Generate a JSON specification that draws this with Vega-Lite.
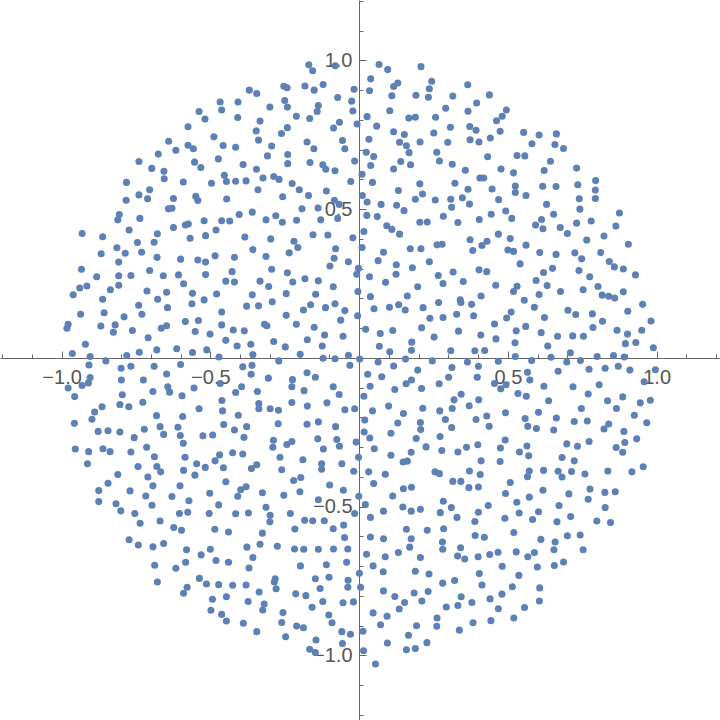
{
  "$schema": "https://vega.github.io/schema/vega-lite/v6.json",
  "width": 720,
  "height": 720,
  "autosize": "none",
  "padding": 0,
  "background": "white",
  "config": {"view": {"stroke": null}},
  "layer": [
    {
      "data": {
        "format": {"type": "csv", "parse": {"x": "number", "y": "number"}},
        "values": "x,y\n-0.369,0.900\n-0.467,0.860\n-0.407,0.860\n-0.538,0.828\n-0.462,0.833\n-0.518,0.803\n-0.408,0.808\n-0.575,0.777\n-0.488,0.743\n-0.640,0.728\n-0.575,0.715\n-0.557,0.703\n-0.457,0.714\n-0.415,0.708\n-0.616,0.698\n-0.675,0.685\n-0.740,0.660\n-0.473,0.669\n-0.553,0.658\n-0.532,0.640\n-0.390,0.650\n-0.697,0.637\n-0.656,0.627\n-0.655,0.602\n-0.453,0.614\n-0.446,0.593\n-0.415,0.594\n-0.380,0.595\n-0.782,0.590\n-0.591,0.591\n-0.496,0.587\n-0.704,0.565\n-0.740,0.548\n-0.711,0.535\n-0.783,0.530\n-0.624,0.536\n-0.549,0.543\n-0.542,0.529\n-0.445,0.534\n-0.641,0.501\n-0.629,0.503\n-0.806,0.482\n-0.811,0.464\n-0.737,0.469\n-0.403,0.482\n-0.359,0.490\n-0.521,0.461\n-0.462,0.461\n-0.435,0.460\n-0.584,0.447\n-0.574,0.450\n-0.773,0.430\n-0.624,0.438\n-0.481,0.430\n-0.931,0.418\n-0.862,0.407\n-0.678,0.417\n-0.516,0.411\n-0.568,0.402\n-0.384,0.406\n-0.745,0.388\n-0.689,0.389\n-0.814,0.370\n-0.867,0.350\n-0.786,0.352\n-0.731,0.355\n-0.357,0.364\n-0.169,0.985\n-0.156,0.965\n-0.080,0.982\n0.067,0.986\n0.096,0.969\n0.208,0.979\n0.039,0.938\n0.244,0.930\n-0.253,0.913\n-0.242,0.908\n-0.182,0.914\n-0.121,0.919\n-0.151,0.900\n-0.017,0.903\n0.035,0.898\n0.116,0.912\n0.130,0.924\n0.236,0.905\n-0.344,0.889\n-0.250,0.865\n-0.241,0.843\n-0.137,0.848\n-0.141,0.828\n-0.072,0.875\n-0.025,0.863\n-0.021,0.830\n0.110,0.881\n0.191,0.883\n0.233,0.876\n0.315,0.880\n-0.300,0.843\n-0.211,0.812\n-0.166,0.805\n0.103,0.831\n0.291,0.839\n-0.333,0.796\n-0.066,0.792\n-0.086,0.773\n-0.007,0.786\n0.027,0.811\n0.167,0.806\n0.189,0.809\n0.257,0.809\n0.059,0.779\n-0.346,0.763\n-0.241,0.774\n-0.261,0.754\n0.307,0.775\n0.116,0.760\n0.152,0.751\n0.251,0.756\n-0.338,0.732\n-0.175,0.726\n-0.056,0.731\n0.033,0.735\n0.136,0.725\n0.159,0.713\n0.205,0.726\n0.298,0.725\n-0.294,0.712\n-0.152,0.703\n-0.048,0.703\n0.168,0.690\n-0.308,0.679\n-0.240,0.684\n0.024,0.691\n0.049,0.677\n0.261,0.691\n-0.240,0.653\n-0.165,0.657\n-0.122,0.649\n-0.112,0.634\n-0.081,0.629\n-0.015,0.662\n0.039,0.647\n0.116,0.635\n0.140,0.660\n0.173,0.649\n0.270,0.662\n0.313,0.651\n-0.345,0.634\n0.010,0.617\n-0.323,0.605\n-0.287,0.610\n-0.269,0.600\n-0.225,0.586\n-0.028,0.593\n0.045,0.590\n0.204,0.585\n0.322,0.587\n-0.340,0.565\n-0.201,0.565\n-0.110,0.561\n0.132,0.563\n-0.257,0.542\n-0.170,0.546\n0.011,0.546\n0.213,0.551\n-0.083,0.530\n-0.067,0.516\n0.027,0.524\n0.074,0.516\n0.126,0.513\n0.189,0.533\n0.256,0.531\n0.308,0.533\n0.311,0.506\n-0.192,0.501\n-0.138,0.504\n0.151,0.495\n-0.280,0.478\n-0.313,0.464\n-0.258,0.456\n-0.210,0.463\n-0.129,0.464\n-0.072,0.469\n0.026,0.479\n0.061,0.475\n0.204,0.456\n0.229,0.457\n0.283,0.476\n0.093,0.444\n0.110,0.432\n0.136,0.416\n0.016,0.425\n-0.155,0.414\n-0.105,0.413\n-0.297,0.400\n-0.219,0.392\n-0.206,0.371\n-0.021,0.404\n-0.079,0.367\n0.262,0.380\n0.279,0.382\n0.010,0.371\n0.082,0.355\n0.172,0.367\n0.208,0.367\n-0.235,0.353\n0.365,0.918\n0.438,0.884\n0.395,0.857\n0.366,0.829\n0.495,0.833\n0.481,0.812\n0.462,0.797\n0.372,0.778\n0.393,0.765\n0.474,0.762\n0.553,0.758\n0.605,0.749\n0.663,0.753\n0.373,0.733\n0.403,0.726\n0.441,0.739\n0.581,0.720\n0.658,0.717\n0.687,0.704\n0.432,0.676\n0.531,0.680\n0.557,0.679\n0.643,0.661\n0.357,0.631\n0.477,0.635\n0.519,0.622\n0.622,0.630\n0.731,0.638\n0.406,0.605\n0.419,0.605\n0.366,0.567\n0.447,0.568\n0.525,0.578\n0.525,0.556\n0.561,0.546\n0.617,0.577\n0.662,0.576\n0.735,0.582\n0.795,0.596\n0.794,0.564\n0.794,0.536\n0.347,0.538\n0.371,0.517\n0.469,0.532\n0.740,0.535\n0.742,0.500\n0.630,0.516\n0.493,0.494\n0.444,0.483\n0.513,0.469\n0.654,0.483\n0.332,0.455\n0.404,0.465\n0.613,0.465\n0.593,0.447\n0.618,0.434\n0.676,0.438\n0.731,0.453\n0.780,0.460\n0.875,0.487\n0.863,0.443\n0.700,0.418\n0.468,0.416\n0.373,0.397\n0.430,0.392\n0.413,0.378\n0.508,0.401\n0.561,0.379\n0.765,0.396\n0.823,0.410\n0.905,0.382\n0.382,0.361\n0.500,0.363\n0.519,0.358\n0.607,0.354\n0.662,0.348\n0.725,0.353\n0.812,0.354\n-0.808,0.322\n-0.679,0.338\n-0.600,0.332\n-0.542,0.329\n-0.516,0.322\n-0.484,0.343\n-0.419,0.338\n-0.933,0.298\n-0.882,0.273\n-0.808,0.276\n-0.767,0.277\n-0.704,0.294\n-0.658,0.276\n-0.607,0.279\n-0.516,0.280\n-0.427,0.290\n-0.448,0.258\n-0.419,0.255\n-0.939,0.235\n-0.915,0.242\n-0.961,0.212\n-0.836,0.229\n-0.808,0.244\n-0.713,0.225\n-0.647,0.221\n-0.590,0.249\n-0.560,0.217\n-0.479,0.215\n-0.359,0.212\n-0.862,0.197\n-0.677,0.197\n-0.562,0.182\n-0.521,0.195\n-0.741,0.177\n-0.644,0.169\n-0.378,0.174\n-0.936,0.147\n-0.857,0.152\n-0.790,0.138\n-0.730,0.147\n-0.462,0.154\n-0.978,0.113\n-0.982,0.100\n-0.868,0.107\n-0.820,0.111\n-0.826,0.086\n-0.762,0.092\n-0.665,0.100\n-0.647,0.108\n-0.584,0.122\n-0.540,0.126\n-0.551,0.089\n-0.462,0.111\n-0.501,0.080\n-0.423,0.094\n-0.386,0.091\n-0.709,0.068\n-0.448,0.059\n-0.920,0.046\n-0.613,0.031\n-0.512,0.027\n-0.410,0.040\n-0.364,0.046\n-0.964,0.015\n-0.781,0.008\n-0.739,0.019\n-0.680,0.027\n-0.560,0.018\n-0.904,0.005\n-0.851,-0.010\n-0.471,0.003\n-0.357,0.011\n-0.908,-0.024\n-0.800,-0.035\n-0.767,-0.028\n-0.689,-0.028\n-0.600,-0.022\n-0.391,-0.030\n-0.360,-0.025\n-0.904,-0.066\n-0.799,-0.074\n-0.725,-0.074\n-0.647,-0.054\n-0.363,-0.055\n-0.910,-0.084\n-0.931,-0.093\n-0.978,-0.101\n-0.643,-0.097\n-0.637,-0.115\n-0.555,-0.101\n-0.467,-0.086\n-0.395,-0.097\n-0.956,-0.130\n-0.796,-0.124\n-0.693,-0.113\n-0.595,-0.127\n-0.415,-0.116\n-0.864,-0.164\n-0.889,-0.182\n-0.804,-0.157\n-0.774,-0.164\n-0.727,-0.149\n-0.538,-0.171\n-0.461,-0.143\n-0.459,-0.178\n-0.898,-0.206\n-0.957,-0.220\n-0.681,-0.194\n-0.593,-0.197\n-0.406,-0.193\n-0.455,-0.224\n-0.669,-0.231\n-0.609,-0.233\n-0.877,-0.247\n-0.844,-0.245\n-0.804,-0.249\n-0.722,-0.240\n-0.657,-0.257\n-0.525,-0.262\n-0.492,-0.259\n-0.419,-0.242\n-0.378,-0.231\n-0.756,-0.268\n-0.601,-0.261\n-0.387,-0.267\n-0.591,-0.287\n-0.714,-0.300\n-0.954,-0.306\n-0.909,-0.315\n-0.861,-0.305\n-0.837,-0.315\n-0.767,-0.316\n-0.688,-0.332\n-0.585,-0.334\n-0.425,-0.319\n-0.391,-0.323\n-0.469,-0.326\n-0.313,0.341\n-0.084,0.335\n-0.098,0.309\n-0.036,0.323\n0.064,0.327\n-0.002,0.301\n-0.008,0.281\n0.125,0.313\n0.179,0.303\n0.236,0.323\n-0.294,0.298\n-0.241,0.286\n-0.333,0.258\n-0.304,0.240\n-0.223,0.255\n-0.182,0.266\n-0.137,0.259\n-0.087,0.239\n0.035,0.273\n0.089,0.254\n0.124,0.281\n0.197,0.239\n0.266,0.277\n0.282,0.250\n0.316,0.289\n-0.245,0.216\n-0.146,0.214\n-0.004,0.223\n0.038,0.206\n0.162,0.208\n-0.292,0.189\n-0.338,0.175\n-0.163,0.179\n-0.187,0.161\n-0.113,0.169\n-0.081,0.182\n-0.048,0.159\n0.050,0.165\n0.102,0.170\n0.133,0.179\n0.155,0.161\n0.215,0.169\n0.267,0.186\n-0.245,0.143\n-0.062,0.127\n-0.005,0.142\n0.238,0.133\n0.282,0.136\n-0.318,0.113\n-0.310,0.108\n-0.211,0.113\n-0.151,0.103\n-0.116,0.077\n-0.054,0.073\n0.022,0.096\n0.071,0.082\n0.113,0.092\n0.210,0.101\n0.252,0.070\n-0.287,0.055\n-0.248,0.037\n-0.174,0.061\n-0.124,0.040\n0.068,0.039\n0.103,0.021\n0.177,0.053\n0.176,0.026\n0.308,0.024\n-0.198,0.012\n-0.121,-0.001\n-0.081,-0.003\n-0.036,0.009\n0.002,-0.004\n-0.270,-0.010\n0.064,-0.014\n-0.031,-0.025\n0.116,-0.027\n0.156,-0.004\n0.246,-0.010\n-0.305,-0.068\n-0.175,-0.050\n-0.147,-0.065\n-0.224,-0.073\n-0.226,-0.097\n0.029,-0.055\n0.076,-0.063\n0.197,-0.041\n0.312,-0.032\n0.301,-0.065\n0.037,-0.095\n0.158,-0.087\n0.176,-0.074\n0.269,-0.087\n-0.342,-0.113\n-0.185,-0.110\n-0.087,-0.097\n-0.067,-0.123\n0.120,-0.106\n0.210,-0.103\n0.016,-0.129\n-0.337,-0.153\n-0.337,-0.171\n-0.226,-0.150\n-0.108,-0.151\n-0.299,-0.171\n-0.271,-0.176\n-0.174,-0.162\n-0.048,-0.174\n-0.015,-0.171\n0.045,-0.178\n0.099,-0.162\n0.149,-0.187\n0.214,-0.169\n0.271,-0.178\n0.313,-0.170\n0.319,-0.141\n-0.272,-0.221\n-0.175,-0.223\n-0.137,-0.215\n-0.079,-0.231\n0.019,-0.209\n0.130,-0.219\n0.206,-0.217\n0.207,-0.241\n0.290,-0.207\n0.311,-0.234\n0.017,-0.249\n0.107,-0.253\n-0.288,-0.277\n-0.290,-0.300\n-0.243,-0.291\n-0.226,-0.281\n-0.139,-0.272\n-0.075,-0.274\n-0.066,-0.297\n-0.010,-0.283\n0.036,-0.269\n0.192,-0.271\n0.272,-0.264\n-0.120,-0.306\n0.051,-0.305\n0.175,-0.317\n0.225,-0.299\n0.278,-0.311\n-0.266,-0.334\n-0.189,-0.342\n-0.002,-0.334\n0.107,-0.327\n0.748,0.333\n0.841,0.324\n0.541,0.316\n0.403,0.296\n0.429,0.290\n0.650,0.301\n0.620,0.287\n0.739,0.294\n0.858,0.306\n0.888,0.299\n0.929,0.279\n0.350,0.257\n0.459,0.244\n0.531,0.241\n0.519,0.223\n0.595,0.260\n0.632,0.243\n0.775,0.273\n0.803,0.240\n0.753,0.229\n0.677,0.223\n0.605,0.213\n0.410,0.208\n0.340,0.195\n0.342,0.186\n0.378,0.180\n0.555,0.194\n0.817,0.211\n0.839,0.207\n0.859,0.201\n0.888,0.222\n0.953,0.180\n0.328,0.147\n0.385,0.142\n0.511,0.154\n0.496,0.134\n0.589,0.170\n0.623,0.136\n0.702,0.160\n0.728,0.146\n0.784,0.148\n0.903,0.157\n0.334,0.090\n0.455,0.114\n0.528,0.091\n0.560,0.106\n0.612,0.085\n0.667,0.073\n0.718,0.074\n0.754,0.073\n0.786,0.102\n0.818,0.123\n0.867,0.093\n0.902,0.080\n0.950,0.093\n0.981,0.124\n0.409,0.077\n0.460,0.064\n0.524,0.051\n0.634,0.040\n0.895,0.048\n0.930,0.052\n0.989,0.034\n0.389,0.024\n0.422,0.025\n0.525,0.005\n0.580,-0.009\n0.645,0.002\n0.698,-0.014\n0.710,0.017\n0.744,-0.009\n0.800,0.005\n0.855,0.008\n0.891,0.003\n0.364,-0.014\n0.401,-0.028\n0.468,-0.011\n0.566,-0.048\n0.574,-0.074\n0.669,-0.045\n0.773,-0.038\n0.827,-0.035\n0.871,-0.028\n0.910,-0.041\n0.996,-0.040\n0.397,-0.065\n0.958,-0.080\n0.455,-0.086\n0.476,-0.104\n0.494,-0.090\n0.621,-0.095\n0.719,-0.097\n0.807,-0.090\n0.343,-0.122\n0.402,-0.141\n0.534,-0.120\n0.562,-0.129\n0.637,-0.144\n0.770,-0.121\n0.835,-0.144\n0.886,-0.131\n0.945,-0.151\n0.979,-0.142\n0.370,-0.161\n0.429,-0.195\n0.492,-0.184\n0.603,-0.183\n0.747,-0.170\n0.865,-0.170\n0.393,-0.207\n0.558,-0.204\n0.663,-0.202\n0.723,-0.214\n0.767,-0.212\n0.925,-0.193\n0.437,-0.230\n0.567,-0.230\n0.596,-0.237\n0.654,-0.242\n0.823,-0.239\n0.839,-0.222\n0.890,-0.247\n0.967,-0.218\n0.491,-0.276\n0.773,-0.281\n0.893,-0.284\n0.933,-0.272\n0.698,-0.289\n0.734,-0.297\n0.332,-0.316\n0.361,-0.300\n0.399,-0.292\n0.475,-0.303\n0.539,-0.316\n0.564,-0.296\n0.570,-0.329\n0.682,-0.335\n0.864,-0.301\n0.886,-0.317\n-0.913,-0.356\n-0.743,-0.365\n-0.680,-0.365\n-0.667,-0.383\n-0.546,-0.356\n-0.517,-0.368\n-0.484,-0.346\n-0.456,-0.369\n-0.362,-0.372\n-0.811,-0.392\n-0.710,-0.400\n-0.590,-0.378\n-0.552,-0.394\n-0.844,-0.421\n-0.875,-0.446\n-0.770,-0.447\n-0.693,-0.430\n-0.602,-0.430\n-0.448,-0.416\n-0.398,-0.443\n-0.380,-0.433\n-0.875,-0.483\n-0.817,-0.490\n-0.801,-0.514\n-0.717,-0.464\n-0.696,-0.495\n-0.629,-0.466\n-0.572,-0.480\n-0.502,-0.455\n-0.472,-0.494\n-0.408,-0.465\n-0.754,-0.523\n-0.736,-0.556\n-0.669,-0.548\n-0.604,-0.523\n-0.576,-0.519\n-0.504,-0.523\n-0.415,-0.524\n-0.372,-0.521\n-0.623,-0.570\n-0.597,-0.579\n-0.485,-0.576\n-0.439,-0.585\n-0.773,-0.611\n-0.742,-0.629\n-0.693,-0.635\n-0.657,-0.624\n-0.580,-0.645\n-0.531,-0.662\n-0.500,-0.643\n-0.377,-0.636\n-0.481,-0.681\n-0.439,-0.687\n-0.357,-0.671\n-0.687,-0.697\n-0.616,-0.707\n-0.583,-0.687\n-0.370,-0.706\n-0.678,-0.753\n-0.537,-0.741\n-0.513,-0.760\n-0.472,-0.762\n-0.425,-0.764\n-0.380,-0.763\n-0.578,-0.771\n-0.590,-0.791\n-0.493,-0.811\n-0.446,-0.803\n-0.373,-0.819\n-0.498,-0.848\n-0.462,-0.862\n-0.446,-0.884\n-0.389,-0.892\n-0.344,-0.359\n-0.126,-0.356\n-0.126,-0.374\n-0.058,-0.356\n-0.018,-0.381\n0.148,-0.350\n0.162,-0.347\n-0.260,-0.376\n0.032,-0.383\n0.088,-0.391\n0.255,-0.383\n0.270,-0.389\n-0.220,-0.412\n-0.196,-0.402\n-0.099,-0.427\n0.049,-0.422\n0.149,-0.440\n0.176,-0.435\n0.315,-0.415\n-0.325,-0.453\n-0.253,-0.462\n-0.199,-0.450\n-0.053,-0.445\n-0.001,-0.465\n0.113,-0.464\n-0.137,-0.477\n-0.313,-0.502\n-0.299,-0.529\n-0.300,-0.551\n-0.231,-0.523\n-0.015,-0.523\n0.021,-0.493\n0.082,-0.515\n0.147,-0.501\n0.175,-0.515\n0.206,-0.509\n0.273,-0.520\n0.283,-0.482\n0.310,-0.503\n-0.183,-0.546\n-0.156,-0.547\n-0.117,-0.547\n-0.052,-0.562\n0.038,-0.536\n-0.325,-0.589\n-0.216,-0.575\n-0.087,-0.574\n0.159,-0.576\n0.229,-0.579\n0.284,-0.574\n-0.333,-0.626\n-0.275,-0.633\n-0.217,-0.642\n-0.186,-0.643\n-0.137,-0.643\n-0.086,-0.642\n-0.049,-0.604\n-0.038,-0.642\n0.038,-0.602\n0.082,-0.608\n0.175,-0.608\n0.280,-0.619\n0.281,-0.643\n0.025,-0.660\n0.088,-0.668\n0.132,-0.654\n0.170,-0.636\n0.206,-0.671\n-0.197,-0.699\n-0.110,-0.695\n-0.042,-0.687\n0.047,-0.699\n0.081,-0.719\n0.189,-0.717\n0.235,-0.726\n0.001,-0.724\n-0.282,-0.742\n-0.285,-0.753\n-0.279,-0.776\n-0.147,-0.742\n-0.101,-0.737\n-0.037,-0.747\n-0.038,-0.771\n0.005,-0.771\n-0.131,-0.775\n-0.336,-0.787\n-0.213,-0.793\n-0.179,-0.799\n0.082,-0.783\n0.120,-0.802\n0.185,-0.790\n0.232,-0.785\n0.281,-0.757\n0.321,-0.748\n-0.319,-0.827\n-0.324,-0.847\n-0.158,-0.838\n-0.122,-0.819\n-0.054,-0.823\n-0.019,-0.820\n0.153,-0.822\n0.135,-0.844\n0.211,-0.817\n0.293,-0.837\n-0.256,-0.856\n-0.260,-0.889\n-0.102,-0.864\n-0.091,-0.890\n0.047,-0.857\n0.094,-0.868\n0.262,-0.874\n-0.344,-0.920\n-0.210,-0.901\n-0.187,-0.907\n0.072,-0.897\n0.193,-0.900\n0.261,-0.902\n-0.247,-0.937\n-0.145,-0.948\n-0.058,-0.920\n-0.029,-0.929\n0.013,-0.919\n0.166,-0.932\n-0.166,-0.979\n-0.147,-0.990\n-0.056,-0.960\n0.095,-0.958\n0.228,-0.957\n0.015,-0.984\n0.159,-0.981\n0.189,-0.977\n0.055,-1.029\n0.410,-0.346\n0.474,-0.348\n0.723,-0.346\n0.371,-0.380\n0.407,-0.392\n0.342,-0.415\n0.369,-0.436\n0.401,-0.434\n0.508,-0.419\n0.572,-0.380\n0.566,-0.399\n0.620,-0.378\n0.669,-0.381\n0.682,-0.400\n0.714,-0.382\n0.759,-0.390\n0.836,-0.380\n0.917,-0.383\n0.955,-0.366\n0.492,-0.456\n0.572,-0.468\n0.618,-0.445\n0.705,-0.457\n0.776,-0.441\n0.770,-0.475\n0.826,-0.452\n0.861,-0.450\n0.434,-0.496\n0.530,-0.485\n0.672,-0.496\n0.827,-0.503\n0.329,-0.536\n0.401,-0.519\n0.389,-0.550\n0.490,-0.539\n0.538,-0.521\n0.603,-0.517\n0.583,-0.543\n0.665,-0.551\n0.711,-0.533\n0.799,-0.548\n0.845,-0.553\n0.390,-0.597\n0.421,-0.603\n0.520,-0.587\n0.611,-0.610\n0.659,-0.619\n0.700,-0.598\n0.743,-0.595\n0.341,-0.638\n0.331,-0.666\n0.355,-0.676\n0.400,-0.668\n0.439,-0.661\n0.467,-0.653\n0.528,-0.652\n0.567,-0.668\n0.589,-0.654\n0.655,-0.645\n0.753,-0.645\n0.481,-0.700\n0.599,-0.703\n0.656,-0.698\n0.687,-0.686\n0.404,-0.725\n0.537,-0.731\n0.413,-0.763\n0.515,-0.769\n0.607,-0.773\n0.343,-0.803\n0.440,-0.810\n0.480,-0.794\n0.332,-0.832\n0.379,-0.822\n0.468,-0.843\n0.556,-0.839\n0.606,-0.817\n0.383,-0.890\n0.443,-0.883\n0.520,-0.874\n0.337,-0.915"
      },
      "mark": {"type": "circle", "size": 50, "color": "#5E81B5", "opacity": 1},
      "encoding": {
        "x": {
          "field": "x", "type": "quantitative",
          "scale": {"domain": [-1.207, 1.213], "nice": false, "zero": false},
          "axis": {
            "orient": "bottom", "offset": -362, "title": null, "grid": false,
            "values": [-1, -0.5, 0.5, 1], "format": ".1f",
            "domainColor": "#666666", "domainWidth": 1,
            "tickColor": "#666666", "tickSize": -7, "tickWidth": 1,
            "labelColor": "#555555", "labelFont": "Liberation Sans", "labelFontSize": 20,
            "labelPadding": 16, "labelBaseline": "top", "labelAlign": "center", "labelFlush": false, "labelOverlap": false,
            "zindex": 0
          }
        },
        "y": {
          "field": "y", "type": "quantitative",
          "scale": {"domain": [-1.217, 1.203], "nice": false, "zero": false},
          "axis": {
            "orient": "left", "offset": -359, "title": null, "grid": false,
            "values": [-1, -0.5, 0.5, 1], "format": ".1f",
            "domainColor": "#666666", "domainWidth": 1,
            "tickColor": "#666666", "tickSize": -7, "tickWidth": 1,
            "labelColor": "#555555", "labelFont": "Liberation Sans", "labelFontSize": 20,
            "labelPadding": 14, "labelAlign": "right", "labelBaseline": "middle", "labelFlush": false, "labelOverlap": false,
            "zindex": 0
          }
        }
      }
    },
    {
      "data": {"values": [{"x": 0, "y": 0}]},
      "mark": {"type": "circle", "opacity": 0},
      "encoding": {
        "x": {
          "field": "x", "type": "quantitative",
          "scale": {"domain": [-1.207, 1.213], "nice": false, "zero": false},
          "axis": {
            "orient": "bottom", "offset": -362, "title": null, "grid": false, "domain": false, "labels": false,
            "values": [-1.2, -1.1, -0.9, -0.8, -0.7, -0.6, -0.4, -0.3, -0.2, -0.1, 0.1, 0.2, 0.3, 0.4, 0.6, 0.7, 0.8, 0.9, 1.1, 1.2],
            "tickColor": "#666666", "tickSize": -4, "tickWidth": 1, "zindex": 0
          }
        },
        "y": {
          "field": "y", "type": "quantitative",
          "scale": {"domain": [-1.217, 1.203], "nice": false, "zero": false},
          "axis": {
            "orient": "left", "offset": -359, "title": null, "grid": false, "domain": false, "labels": false,
            "values": [-1.2, -1.1, -0.9, -0.8, -0.7, -0.6, -0.4, -0.3, -0.2, -0.1, 0.1, 0.2, 0.3, 0.4, 0.6, 0.7, 0.8, 0.9, 1.1, 1.2],
            "tickColor": "#666666", "tickSize": -4, "tickWidth": 1, "zindex": 0
          }
        }
      }
    }
  ],
  "resolve": {"axis": {"x": "independent", "y": "independent"}}
}
